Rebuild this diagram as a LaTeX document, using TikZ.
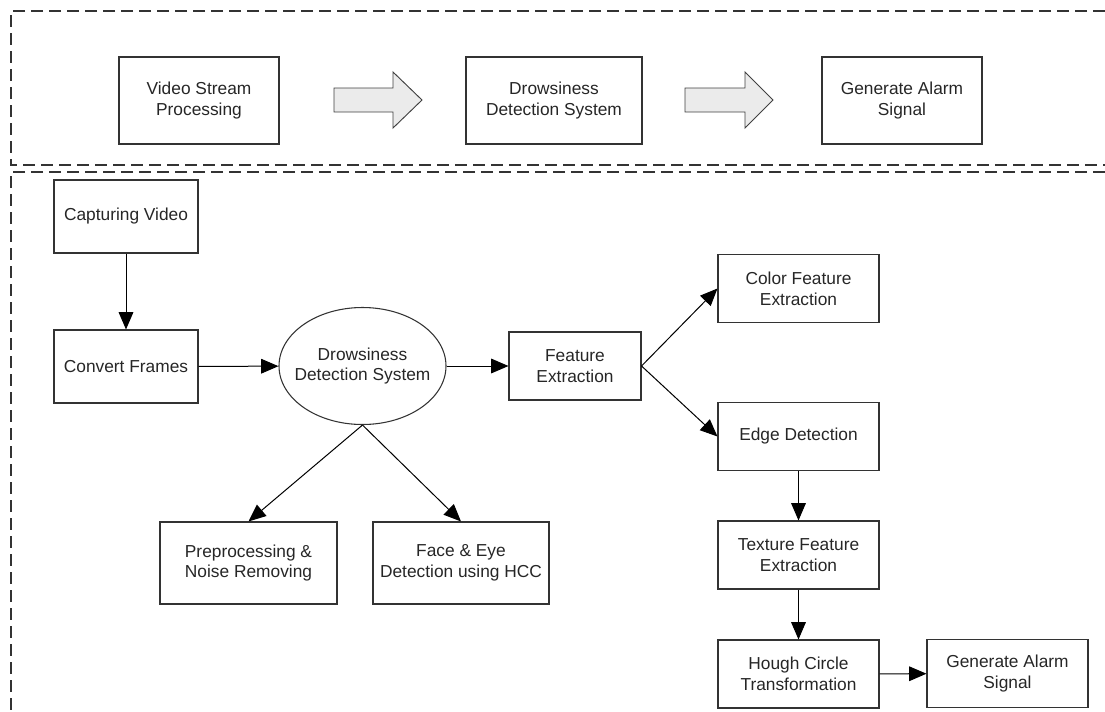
\documentclass[tikz,border=0pt]{standalone}
\usepackage{fontspec}
\setmainfont{Liberation Sans}
\usetikzlibrary{shapes.geometric, arrows.meta, positioning}

\tikzset{
  box/.style={draw=black!80, line width=0.8pt, align=center, text=black!85,
    font=\fontsize{13}{15.5}\selectfont, inner sep=2pt},
  topbox/.style={box, minimum width=120pt, minimum height=65.25pt},
  smallbox/.style={box, minimum width=108pt, minimum height=54.75pt},
  featbox/.style={box, minimum width=120.75pt, minimum height=51pt},
  link/.style={-{Triangle[length=13pt, width=11pt]}, line width=0.75pt, black},
  frame/.style={dash pattern=on 9pt off 4.5pt, line width=0.8pt, draw=black!80},
  hollow/.style={draw=black!75, fill=black!8, line width=0.7pt, line join=miter}
}

\begin{document}
\begin{tikzpicture}[x=0.75pt, y=-0.75pt]
\useasboundingbox (0,0) rectangle (1105,711);

% Dashed frames
\draw[frame] (1105,11) -- (11,11) -- (11,165) -- (1105,165);
\draw[frame] (1105,172) -- (11,172) -- (11,711);

% Overview row
\node[topbox] (vsp) at (199,100.5) {Video Stream\\Processing};
\node[topbox, minimum width=132pt] (dds) at (554,100.5) {Drowsiness\\Detection System};
\node[topbox] (gas) at (902,100.5) {Generate Alarm\\Signal};

% Block arrows
\draw[hollow] (334,88) -- (393,88) -- (393,72) -- (422,100) -- (393,128) -- (393,112) -- (334,112) -- cycle;
\draw[hollow] (685,88) -- (745,88) -- (745,72) -- (773,100) -- (745,128) -- (745,112) -- (685,112) -- cycle;

% Detailed flow
\node[smallbox] (cap) at (126,216.5) {Capturing Video};
\node[smallbox] (conv) at (126,366.5) {Convert Frames};
\node[box, ellipse, inner xsep=-9pt, inner ysep=0pt, minimum width=125.25pt, minimum height=87.75pt] (dds2) at (362.5,366) {Drowsiness\\Detection System};
\node[box, minimum width=99pt, minimum height=51pt] (feat) at (575,366) {Feature\\Extraction};

\node[box, minimum width=132.75pt, minimum height=61.5pt] (prep) at (248.5,563) {Preprocessing \&\\Noise Removing};
\node[box, minimum width=132pt, minimum height=61.5pt] (face) at (461,563) {Face \& Eye\\Detection using HCC};

\node[featbox] (color) at (798.5,288.5) {Color Feature\\Extraction};
\node[featbox] (edge) at (798.5,436.5) {Edge Detection};
\node[featbox] (texture) at (798.5,555) {Texture Feature\\Extraction};
\node[featbox] (hough) at (798.5,674) {Hough Circle\\Transformation};
\node[featbox] (alarm) at (1007.5,673.5) {Generate Alarm\\Signal};

% Connectors
\draw[link] (cap) -- (conv);
\draw[link] (conv) -- (dds2);
\draw[link] (dds2) -- (feat);
\draw[link] (dds2.south) -- (prep.north);
\draw[link] (dds2.south) -- (face.north);
\draw[link] (feat.east) -- (color.west);
\draw[link] (feat.east) -- (edge.west);
\draw[link] (edge) -- (texture);
\draw[link] (texture) -- (hough);
\draw[link] (hough) -- (alarm);
\end{tikzpicture}
\end{document}
